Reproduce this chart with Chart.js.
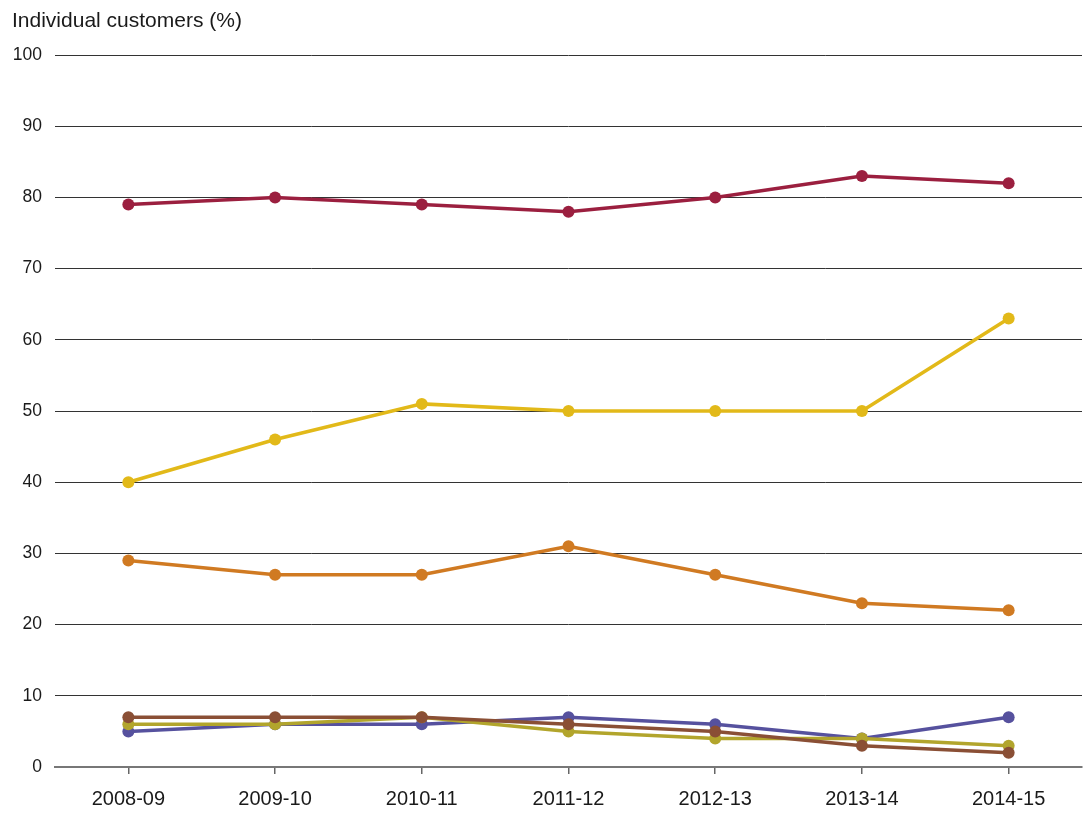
<!DOCTYPE html>
<html>
<head>
<meta charset="utf-8">
<style>
html,body{margin:0;padding:0;background:#fff;}
#wrap{width:1090px;height:814px;position:relative;}
</style>
<script src="https://cdn.jsdelivr.net/npm/chart.js@4.4.1/dist/chart.umd.min.js"></script>
</head>
<body>
<div id="wrap"><canvas id="c" width="1090" height="814"></canvas></div>
<script>
const categories = ["2008-09","2009-10","2010-11","2011-12","2012-13","2013-14","2014-15"];
const seriesMaroon = [79,80,79,78,80,83,82];
const seriesYellow = [40,46,51,50,50,50,63];
const seriesOrange = [29,27,27,31,27,23,22];
const seriesBrown  = [7,7,7,6,5,3,2];
const seriesOlive  = [6,6,7,5,4,4,3];
const seriesBlue   = [5,6,6,7,6,4,7];
const yTicks = [0,10,20,30,40,50,60,70,80,90,100];
const axisTitle = "Individual customers (%)";

const FONT = "'Liberation Sans', Arial, Helvetica, sans-serif";

function ds(data, color){
  return {data, borderColor: color, backgroundColor: color, pointBackgroundColor: color,
    pointBorderColor: color, borderWidth: 3.5, pointRadius: 6, pointBorderWidth: 0, pointHoverRadius: 6,
    tension: 0, fill: false};
}

const titlePlugin = {
  id: 'axTitle',
  afterDraw(chart){
    const ctx = chart.ctx;
    ctx.save();
    ctx.font = "21px " + FONT;
    ctx.fillStyle = "#1a1a1a";
    ctx.textBaseline = "alphabetic";
    ctx.textAlign = "left";
    ctx.fillText(axisTitle, 12, 27);
    ctx.restore();
  }
};

new Chart(document.getElementById('c'), {
  type: 'line',
  data: {
    labels: categories,
    datasets: [
      ds(seriesMaroon, '#9b1f3f'),
      ds(seriesYellow, '#e2b919'),
      ds(seriesOrange, '#d07a22'),
      ds(seriesBrown, '#8a4f35'),
      ds(seriesOlive, '#b2a52c'),
      ds(seriesBlue, '#56519e')
    ]
  },
  options: {
    responsive: false,
    animation: false,
    devicePixelRatio: 1,
    layout: {padding: {top: 55, right: 8, left: 0, bottom: 0}},
    plugins: {legend: {display: false}, tooltip: {enabled: false}, title: {display: false}},
    scales: {
      x: {
        offset: true,
        grid: {display: true, drawOnChartArea: false, drawTicks: true, tickLength: 7, offset: false, color: '#666', lineWidth: 1.5},
        border: {display: true, color: '#777', width: 2},
        ticks: {font: {family: FONT, size: 20}, color: '#1a1a1a', padding: 13, maxRotation: 0},
        afterFit(scale){ scale.height = 47; }
      },
      y: {
        min: 0, max: 100,
        afterBuildTicks(scale){ scale.ticks = yTicks.map(v => ({value: v})); },
        grid: {color: '#333', lineWidth: 1, drawTicks: false},
        border: {display: false},
        ticks: {font: {family: FONT, size: 17.5}, color: '#1a1a1a', padding: 13},
        afterFit(scale){ scale.width = 55; }
      }
    }
  },
  plugins: [titlePlugin]
});
</script>
</body>
</html>
